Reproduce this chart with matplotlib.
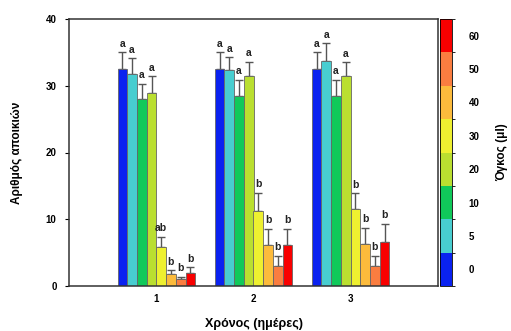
import matplotlib
matplotlib.use("Agg")
import matplotlib.pyplot as plt
import numpy as np
from matplotlib.colors import ListedColormap, BoundaryNorm
from matplotlib.cm import ScalarMappable

plt.rcParams['font.family'] = ['Liberation Sans', 'DejaVu Sans']
plt.rcParams['font.weight'] = 'bold'

days = [1, 2, 3]
volumes = ['0', '5', '10', '20', '30', '40', '50', '60']
colors = ['#0A22F0', '#48CDD0', '#10C95A', '#BADF30', '#EEF030', '#FCBB3C', '#FA7D40', '#F80000']

# rows = volume, columns = day
means = [
    [32.5, 32.5, 32.5],
    [31.7, 32.3, 33.7],
    [28.0, 28.4, 28.4],
    [28.9, 31.4, 31.5],
    [5.9, 11.3, 11.5],
    [1.75, 6.2, 6.3],
    [1.0, 3.0, 3.0],
    [2.0, 6.1, 6.6],
]
errs = [
    [2.5, 2.5, 2.5],
    [2.4, 2.0, 2.7],
    [2.3, 2.5, 2.5],
    [2.5, 2.2, 2.0],
    [1.5, 2.7, 2.4],
    [0.65, 2.4, 2.4],
    [0.4, 1.5, 1.5],
    [0.8, 2.5, 2.7],
]
letters = [
    ['a', 'a', 'a'],
    ['a', 'a', 'a'],
    ['a', 'a', 'a'],
    ['a', 'a', 'a'],
    ['ab', 'b', 'b'],
    ['b', 'b', 'b'],
    ['b', 'b', 'b'],
    ['b', 'b', 'b'],
]

fig = plt.figure(figsize=(5.11, 3.31), dpi=100)
ax = fig.add_axes([69/511, 1 - 286/331, (438-69)/511, (286-19)/331])

w = 0.1
x = np.array(days, dtype=float)
for i, (m, e, c) in enumerate(zip(means, errs, colors)):
    xi = x + (i - 3.5) * w
    ax.bar(xi, m, width=w, color=c, edgecolor='#666666', linewidth=0.6, zorder=2)
    ax.errorbar(xi, m, yerr=[np.zeros(len(e)), e], fmt='none', ecolor='#555555',
                elinewidth=1.0, capsize=3, capthick=1.0, zorder=1)
    for xx, mm, ee, lt in zip(xi, m, e, letters[i]):
        ax.annotate(lt, (xx, mm + ee), xytext=(0, 2.5), textcoords='offset points',
                    ha='center', va='bottom', fontsize=7.5, fontweight='bold', color='#222222')

ax.set_xlim(0.1, 3.9)
ax.set_ylim(0, 40)
ax.set_xticks(days)
ax.set_xticklabels([str(d) for d in days])
ax.set_yticks([0, 10, 20, 30, 40])
ax.tick_params(axis='x', length=0, labelsize=7, pad=6)
ax.tick_params(axis='y', direction='out', length=3, labelsize=7, pad=6)
for s in ax.spines.values():
    s.set_linewidth(1.1)
    s.set_color('#333333')
ax.set_ylabel('Αριθμός αποικιών', fontsize=8.5, fontweight='bold', labelpad=16)
ax.set_xlabel('Χρόνος (ημέρες)', fontsize=9, fontweight='bold', labelpad=10)

cax = fig.add_axes([440/511, 1 - 286/331, 12/511, (286-19)/331])
cmap = ListedColormap(colors)
norm = BoundaryNorm(np.arange(len(colors) + 1), cmap.N)
sm = ScalarMappable(norm=norm, cmap=cmap)
cb = fig.colorbar(sm, cax=cax, ticks=np.arange(len(colors)) + 0.5)
cb.set_ticklabels(volumes)
cb.ax.tick_params(length=0, labelsize=7, pad=12)
cb.outline.set_linewidth(0.6)
cb.set_label('Όγκος (μl)', rotation=90, fontsize=8.5, fontweight='bold', labelpad=12)

fig.savefig('out.png', dpi=100)
